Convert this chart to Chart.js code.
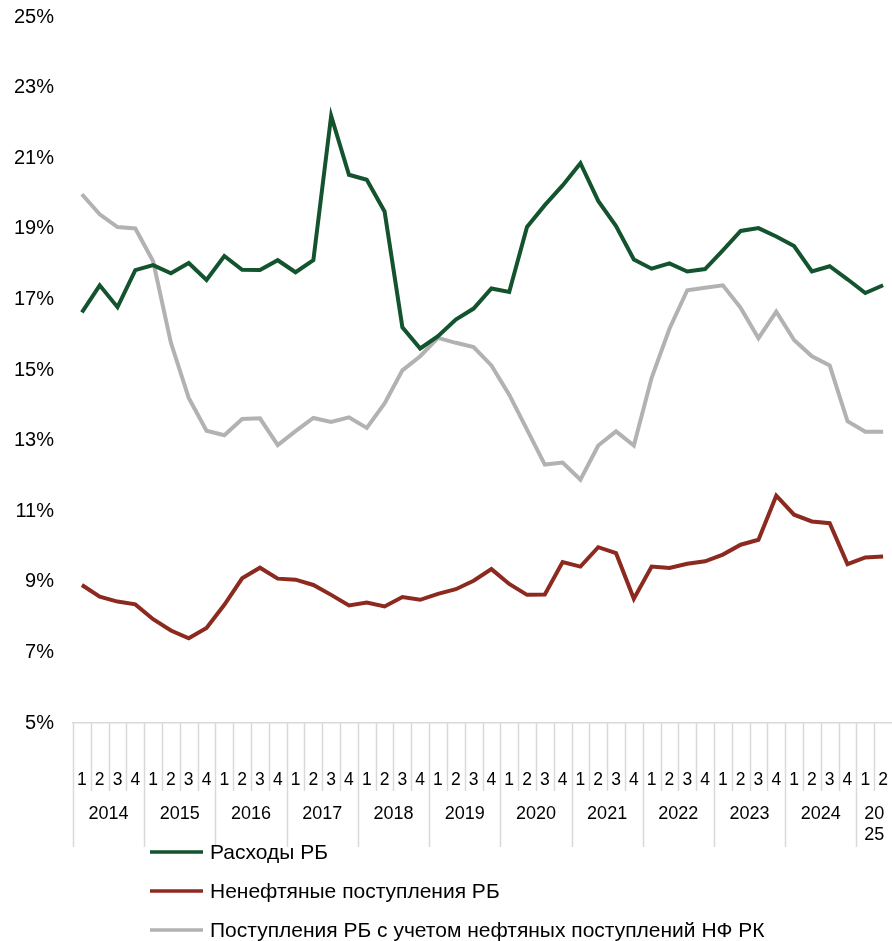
<!DOCTYPE html>
<html>
<head>
<meta charset="utf-8">
<script src="https://cdn.jsdelivr.net/npm/chart.js"></script>
<style>
  html,body{margin:0;padding:0;background:#fff}
  #wrap{width:892px;height:941px;position:relative}
</style>
</head>
<body>
<div id="wrap"><canvas id="c"></canvas></div>
<script>
/* =====  data  ===== */
const years    = ['2014','2015','2016','2017','2018','2019','2020','2021','2022','2023','2024','20\n25'];
const quarters = ['1','2','3','4'];
const periods  = [];                                   // 2014Q1 .. 2025Q2
years.forEach(y => quarters.forEach(q => periods.push(y.replace('\n','') + ' ' + q)));
periods.length = 46;

const expenses = [16.63,17.40,16.78,17.83,17.97,17.74,18.03,17.55,18.23,17.84,17.83,18.11,17.77,18.11,22.20,20.53,
                  20.39,19.49,16.21,15.61,15.96,16.43,16.74,17.31,17.21,19.05,19.67,20.23,20.86,19.79,19.08,18.13,
                  17.87,18.02,17.79,17.86,18.39,18.94,19.02,18.78,18.51,17.79,17.94,17.57,17.18,17.40];
const nonOil   = [8.91,8.58,8.44,8.36,7.94,7.62,7.40,7.69,8.35,9.10,9.40,9.09,9.06,8.91,8.63,8.33,
                  8.41,8.30,8.57,8.49,8.66,8.79,9.03,9.36,8.94,8.63,8.64,9.56,9.43,9.98,9.81,8.52,
                  9.43,9.39,9.51,9.58,9.77,10.05,10.19,11.44,10.90,10.71,10.66,9.50,9.69,9.72];
const withNF   = [19.98,19.41,19.05,19.01,18.08,15.77,14.21,13.28,13.15,13.61,13.63,12.87,13.27,13.64,13.53,13.66,
                  13.36,14.05,14.99,15.39,15.91,15.77,15.65,15.13,14.30,13.31,12.32,12.38,11.89,12.86,13.26,12.86,
                  14.78,16.17,17.26,17.33,17.40,16.76,15.90,16.65,15.85,15.39,15.13,13.55,13.25,13.25];
const seriesNames = ['Расходы РБ','Ненефтяные поступления РБ','Поступления РБ с учетом нефтяных поступлений НФ РК'];

const FONT = '"Liberation Sans", Arial, sans-serif';
const GRID = '#d9d9d9';

/* =====  multi-level category axis  ===== */
const catAxis = {
  id: 'catAxis',
  afterDraw(chart){
    const {ctx} = chart, x = chart.scales.x, n = chart.data.labels.length;
    const w = (x.right - x.left) / n, top = x.top;
    ctx.save();
    ctx.strokeStyle = GRID; ctx.lineWidth = 1.5;
    for (let i = 0; i < n; i++){
      const bx = Math.round(x.left + i*w) + 0.5;
      ctx.beginPath(); ctx.moveTo(bx, top); ctx.lineTo(bx, top + (i % 4 === 0 ? 124 : 68)); ctx.stroke();
    }
    ctx.fillStyle = '#000'; ctx.textAlign = 'center'; ctx.textBaseline = 'middle';
    ctx.font = '17.5px ' + FONT;
    for (let i = 0; i < n; i++) ctx.fillText(quarters[i % 4], x.getPixelForValue(i), top + 57);
    ctx.font = '18px ' + FONT;
    years.forEach((y, k) => {
      const first = k*4, last = Math.min(first + 3, n - 1);
      const cx = (x.getPixelForValue(first) + x.getPixelForValue(last)) / 2;
      y.split('\n').forEach((ln, j) => ctx.fillText(ln, cx, top + 91 + j*21));
    });
    ctx.restore();
  }
};

/* =====  legend (stacked below the axis)  ===== */
const stackLegend = {
  id: 'stackLegend',
  afterDraw(chart){
    const {ctx} = chart;
    ctx.save();
    ctx.font = '21px ' + FONT; ctx.textBaseline = 'middle'; ctx.fillStyle = '#000';
    chart.data.datasets.forEach((ds, i) => {
      const y = 852 + i*39;
      ctx.strokeStyle = ds.borderColor; ctx.lineWidth = 3.5;
      ctx.beginPath(); ctx.moveTo(150, y); ctx.lineTo(203, y); ctx.stroke();
      ctx.fillText(ds.label, 210, y + 1);
    });
    ctx.restore();
  }
};

const line = (label, data, color) => ({label, data, borderColor: color, backgroundColor: color,
  borderWidth: 4, pointRadius: 0, tension: 0, borderJoinStyle: 'miter'});

new Chart(document.getElementById('c'), {
  type: 'line',
  data: {
    labels: periods,
    datasets: [
      line(seriesNames[0], expenses, '#13532e'),
      line(seriesNames[1], nonOil,   '#8c2a20'),
      line(seriesNames[2], withNF,   '#b3b1b1')
    ]
  },
  options: {
    responsive: true, maintainAspectRatio: false, animation: false,
    layout: {padding: {top: 17, right: -2, left: 0, bottom: 0}},
    plugins: {legend: {display: false}, tooltip: {enabled: false}},
    scales: {
      x: {
        offset: true,
        grid: {display: false},
        border: {display: true, color: GRID, width: 1.5},
        ticks: {display: false},
        afterFit(s){ s.height = 218; s.paddingLeft = 0; s.paddingRight = 0; }
      },
      y: {
        min: 5, max: 25,
        grid: {display: false, drawTicks: false},
        border: {display: false},
        ticks: {stepSize: 2, padding: 19, color: '#000', font: {family: FONT, size: 20},
                callback: v => v + '%'},
        afterFit(s){ s.width = 73; s.paddingTop = 0; s.paddingBottom = 0; }
      }
    }
  },
  plugins: [catAxis, stackLegend]
});
</script>
</body>
</html>
